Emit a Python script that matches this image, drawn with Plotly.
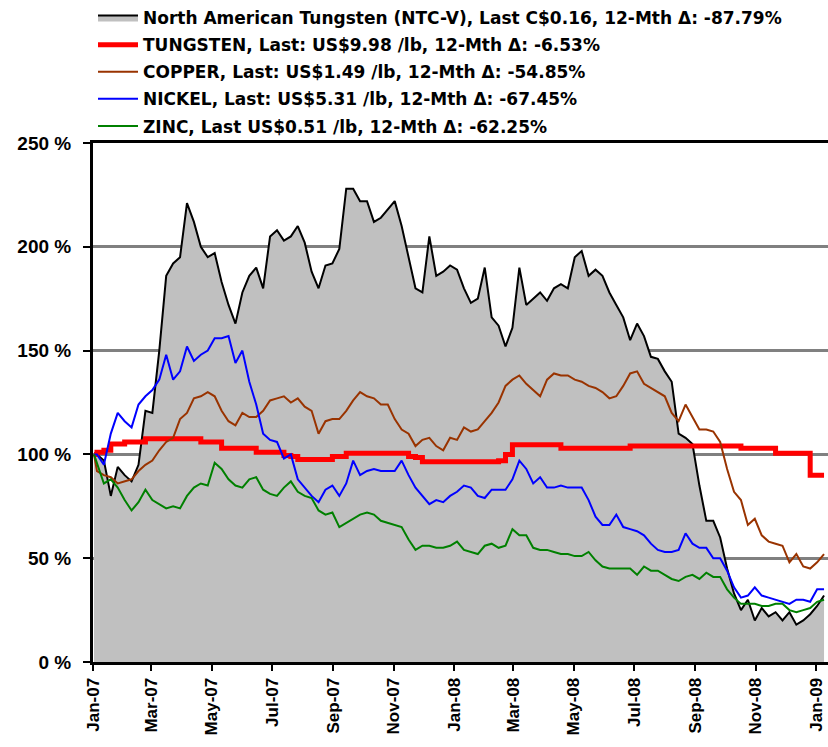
import pandas as pd
import plotly.graph_objects as go

# ---------------- data (percent of 2 Jan 2007 level) ----------------
dates = ["2007-01-02"] + [d.strftime("%Y-%m-%d") for d in pd.date_range("2007-01-05", periods=106, freq="7D")]

ntc = [100,
       100, 97, 80, 94, 90, 87, 95, 121, 120, 150,
       186, 192, 195, 221, 212, 200, 195, 197, 183, 172,
       163, 178, 186, 190, 180, 205, 208, 203, 205, 210,
       202, 188, 180, 191, 192, 199, 228, 228, 222, 222,
       212, 214, 218, 222, 210, 195, 180, 178, 205, 186,
       188, 191, 189, 180, 173, 175, 190, 166, 162, 152,
       161, 190, 172, 175, 178, 174, 180, 182, 180, 195,
       198, 186, 189, 186, 178, 172, 166, 155, 163, 157,
       147, 146, 140, 135, 110, 108, 105, 85, 68, 68,
       60, 45, 33, 25, 30, 20, 26, 22, 24, 20,
       24, 18, 20, 23, 27, 32]

tungsten = [100,
            101, 102, 105, 105, 106, 106, 106, 107.5, 107.5, 107.5,
            107.5, 107.5, 107.5, 107.5, 107.5, 106, 106, 106, 103, 103,
            103, 103, 103, 101, 101, 101, 101, 99.5, 99, 97.5,
            97.5, 97.5, 97.5, 97.5, 99, 99, 100.5, 100.5, 100.5, 100.5,
            100.5, 100.5, 100.5, 100.5, 100.5, 99, 98.5, 96.5, 96.5, 96.5,
            96.5, 96.5, 96.5, 96.5, 96.5, 96.5, 96.5, 96.5, 97, 100,
            104.7, 104.7, 104.7, 104.7, 104.7, 104.7, 104.7, 103, 103, 103,
            103, 103, 103, 103, 103, 103, 103, 104, 104, 104,
            104, 104, 104, 104, 104, 104, 104, 104, 104, 104,
            104, 104, 104, 103, 103, 103, 103, 103, 100.5, 100.5,
            100.5, 100.5, 100.5, 90, 90, 90]

copper = [100,
          92, 90, 89, 86, 87, 88, 92, 95, 97, 102,
          106, 108, 117, 120, 127, 128, 130, 128, 121, 116,
          114, 120, 118, 118, 121, 126, 127, 128, 125, 127,
          123, 121, 110, 116, 117, 117, 121, 126, 130, 128,
          127, 124, 124, 117, 112, 110, 104, 107, 108, 104,
          102, 108, 107, 113, 111, 112, 116, 120, 125, 133,
          136, 138, 134, 131, 128, 136, 139, 138, 138, 136,
          135, 133, 132, 130, 127, 128, 133, 139, 140, 134,
          132, 130, 128, 120, 116, 124, 118, 112, 112, 111,
          106, 93, 82, 78, 66, 69, 61, 58, 57, 56,
          48, 52, 46, 45, 48, 52]

nickel = [100,
          100, 95, 110, 120, 116, 113, 124, 128, 131, 136,
          148, 136, 140, 152, 145, 148, 150, 156, 156, 157,
          144, 150, 135, 124, 110, 107, 106, 98, 100, 88,
          84, 80, 77, 83, 85, 80, 86, 97, 90, 92,
          93, 92, 92, 92, 97, 90, 84, 80, 76, 78,
          77, 80, 82, 85, 84, 80, 79, 83, 83, 83,
          88, 97, 93, 86, 89, 84, 84, 85, 84, 84,
          84, 78, 70, 66, 66, 71, 65, 64, 63, 61,
          57, 54, 53, 53, 54, 62, 57, 55, 55, 50,
          50, 44, 36, 31, 32, 36, 32, 31, 30, 29,
          28, 30, 30, 29, 35, 35]

zinc = [100,
        96, 86, 88, 84, 78, 73, 77, 83, 78, 76,
        74, 75, 74, 80, 84, 86, 85, 96, 93, 88,
        85, 84, 88, 89, 83, 81, 80, 84, 87, 82,
        80, 79, 73, 71, 72, 65, 67, 69, 71, 72,
        71, 68, 67, 66, 65, 59, 54, 56, 56, 55,
        55, 56, 58, 54, 53, 52, 56, 57, 55, 56,
        64, 61, 61, 55, 54, 54, 53, 52, 52, 51,
        51, 53, 49, 46, 45, 45, 45, 45, 42, 46,
        44, 44, 42, 40, 39, 41, 42, 40, 43, 41,
        41, 35, 31, 28, 28, 28, 27, 27, 28, 28,
        25, 24, 25, 26, 29, 30]

names = [
    "North American Tungsten (NTC-V), Last C$0.16, 12-Mth \u0394: -87.79%",
    "TUNGSTEN, Last: US$9.98 /lb, 12-Mth \u0394: -6.53%",
    "COPPER, Last: US$1.49 /lb, 12-Mth \u0394: -54.85%",
    "NICKEL, Last: US$5.31 /lb, 12-Mth \u0394: -67.45%",
    "ZINC, Last US$0.51 /lb, 12-Mth \u0394: -62.25%",
]

x_tick_vals = ["2007-01-01", "2007-03-01", "2007-05-01", "2007-07-01", "2007-09-01",
               "2007-11-01", "2008-01-01", "2008-03-01", "2008-05-01", "2008-07-01",
               "2008-09-01", "2008-11-01", "2009-01-01"]
x_tick_text = ["Jan-07", "Mar-07", "May-07", "Jul-07", "Sep-07", "Nov-07", "Jan-08",
               "Mar-08", "May-08", "Jul-08", "Sep-08", "Nov-08", "Jan-09"]
y_tick_vals = [0, 50, 100, 150, 200, 250]
y_tick_text = ["0 %", "50 %", "100 %", "150 %", "200 %", "250 %"]

# ---------------- figure ----------------
FONT = "Liberation Sans, Arial, sans-serif"
LFONT = "DejaVu Sans, Verdana, sans-serif"
fig = go.Figure()

# legend entry for the area (box with border)
fig.add_trace(go.Scatter(x=[None], y=[None], name=names[0], mode="lines",
                         fill="toself", fillcolor="#C0C0C0",
                         line=dict(color="black", width=2), legendgroup="a"))
fig.add_trace(go.Scatter(x=dates, y=ntc, name=names[0], mode="lines",
                         fill="tozeroy", fillcolor="#C0C0C0", showlegend=False,
                         line=dict(color="black", width=2), legendgroup="a"))
fig.add_trace(go.Scatter(x=dates, y=tungsten, name=names[1], mode="lines",
                         line=dict(color="#FF0000", width=5, shape="hv"), legendgroup="b"))
fig.add_trace(go.Scatter(x=dates, y=copper, name=names[2], mode="lines",
                         line=dict(color="#993300", width=2), legendgroup="c"))
fig.add_trace(go.Scatter(x=dates, y=nickel, name=names[3], mode="lines",
                         line=dict(color="#0000FF", width=2), legendgroup="d"))
fig.add_trace(go.Scatter(x=dates, y=zinc, name=names[4], mode="lines",
                         line=dict(color="#008000", width=2), legendgroup="e"))

fig.update_layout(
    width=828, height=747,
    margin=dict(l=93, r=0, t=143, b=85, autoexpand=False),
    paper_bgcolor="white", plot_bgcolor="white",
    font=dict(family=FONT, size=16, color="black", weight="bold"),
    showlegend=True,
    legend=dict(x=0, xanchor="left", y=1.03, yref="container", yanchor="top",
                bgcolor="rgba(0,0,0,0)", borderwidth=0,
                font=dict(family=LFONT, size=17, color="black", weight="bold"),
                itemwidth=40, tracegroupgap=2, traceorder="grouped"),
    xaxis=dict(type="date", range=["2007-01-01", "2009-01-13"], automargin=False,
               tickvals=x_tick_vals, ticktext=x_tick_text, tickangle=-90,
               ticks="outside", ticklen=6, tickwidth=2, tickcolor="black",
               showline=True, linecolor="black", linewidth=3, mirror=True,
               showgrid=False, zeroline=False,
               tickfont=dict(family=FONT, size=17, color="black", weight="bold")),
    yaxis=dict(range=[0, 250], tickvals=y_tick_vals, ticktext=y_tick_text, automargin=False,
               ticks="outside", ticklen=7, tickwidth=2, tickcolor="black",
               showline=True, linecolor="black", linewidth=3,
               showgrid=True, gridcolor="#808080", gridwidth=3, zeroline=False,
               ticklabelstandoff=8,
               tickfont=dict(family=FONT, size=19, color="black", weight="bold")),
)

# remove the page's default body margin so the figure fills the window exactly
fig.write_html("out.html", config={"displayModeBar": False},
               post_script="document.body.style.margin='0px';document.body.style.overflow='hidden';")
